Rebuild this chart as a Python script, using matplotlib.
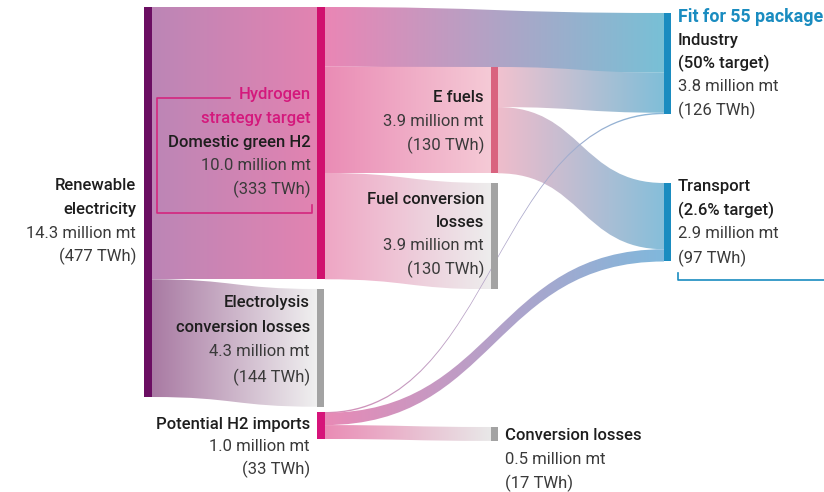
import numpy as np
import matplotlib.pyplot as plt
from matplotlib.path import Path
from matplotlib.patches import PathPatch, Rectangle
from matplotlib.colors import to_rgba

plt.rcParams['font.family'] = ['Roboto', 'DejaVu Sans']
plt.rcParams['font.size'] = 12

# flows in TWh
flow_src = ["ren", "ren", "h2", "h2", "h2", "efuel", "efuel", "imp", "imp", "imp"]
flow_dst = ["h2", "elec", "ind", "efuel", "fcl", "ind", "trans", "ind", "trans", "conv"]
flow_twh = [333, 144, 73, 130, 130, 49, 81, 1, 15, 17]
flow_c0 = ["#bc86b6", "#a97aa3", "#ea86b5", "#ea8cb5", "#efa6c4",
           "#f1c2cf", "#efbccb", "#d890b8", "#e88ab6", "#ea8cb5"]
flow_c1 = ["#e283b1", "#f0f0f0", "#78c0d6", "#f5cad6", "#ededed",
           "#80bed8", "#86bfda", "#8ab8d8", "#80b8dc", "#e8e8e8"]

# node layout: x, top, width, colour
nodes = {
    "ren":   (144, 7, 8, "#6b0e62"),
    "h2":    (317, 7, 8, "#d0106e"),
    "elec":  (317, 289, 7, "#a3a3a3"),
    "imp":   (317, 412, 8, "#d6147a"),
    "efuel": (491, 67, 7, "#d9637f"),
    "fcl":   (491, 183, 7, "#a3a3a3"),
    "conv":  (491, 427, 7, "#a3a3a3"),
    "ind":   (664, 13, 7, "#1a8cc0"),
    "trans": (664, 183, 7, "#1a8cc0"),
}

k = 390 / 477  # pixels per TWh

fig = plt.figure(figsize=(8.24, 4.92), dpi=100)
ax = fig.add_axes([0, 0, 1, 1])

size_in = {n: 0 for n in nodes}
size_out = {n: 0 for n in nodes}
for s, d, v in zip(flow_src, flow_dst, flow_twh):
    size_out[s] += v
    size_in[d] += v

off_out = {n: nodes[n][1] for n in nodes}
off_in = {n: nodes[n][1] for n in nodes}


def band(x0, y0, x1, y1, h, c0, c1):
    xm = (x0 + x1) / 2
    verts = [(x0, y0), (xm, y0), (xm, y1), (x1, y1), (x1, y1 + h),
             (xm, y1 + h), (xm, y0 + h), (x0, y0 + h), (x0, y0)]
    codes = [Path.MOVETO, Path.CURVE4, Path.CURVE4, Path.CURVE4, Path.LINETO,
             Path.CURVE4, Path.CURVE4, Path.CURVE4, Path.CLOSEPOLY]
    patch = PathPatch(Path(verts, codes), facecolor="none", edgecolor="none")
    ax.add_patch(patch)
    t = np.linspace(0, 1, 256)[:, None]
    rgba = (1 - t) * np.array(to_rgba(c0)) + t * np.array(to_rgba(c1))
    im = ax.imshow(rgba[None, :, :], extent=(x0, x1, max(y0, y1) + h, min(y0, y1)),
                   aspect="auto", interpolation="bilinear", zorder=1)
    im.set_clip_path(patch)


for s, d, v, c0, c1 in zip(flow_src, flow_dst, flow_twh, flow_c0, flow_c1):
    h = v * k
    x0 = nodes[s][0] + nodes[s][2]
    x1 = nodes[d][0]
    band(x0, off_out[s], x1, off_in[d], max(h, 1.4), c0, c1)
    off_out[s] += h
    off_in[d] += h

for n, (x, top, w, col) in nodes.items():
    h = max(size_in[n], size_out[n]) * k
    ax.add_patch(Rectangle((x, top), w, h, color=col, zorder=3, lw=0))

styles = {
    "t": dict(fontweight="medium", color="#1e1e1e"),
    "v": dict(color="#3a3a3a"),
    "p": dict(fontweight="medium", color="#d4187c"),
    "b": dict(fontweight="bold", color="#1a8cc0", fontsize=12.8),
}


def label(x, y, lines, ha="right", step=23.5):
    for i, (s, st) in enumerate(lines):
        ax.text(x, y + i * step, s, ha=ha, va="center", zorder=5, **styles[st])


label(136, 186, [("Renewable", "t"), ("electricity", "t"),
                 ("14.3 million mt", "v"), ("(477 TWh)", "v")])
label(311, 95, [("Hydrogen", "p"), ("strategy target", "p"), ("Domestic green H2", "t"),
                ("10.0 million mt", "v"), ("(333 TWh)", "v")])
label(310, 302, [("Electrolysis", "t"), ("conversion losses", "t"),
                 ("4.3 million mt", "v"), ("(144 TWh)", "v")], step=25)
label(310, 424, [("Potential H2 imports", "t"), ("1.0 million mt", "v"), ("(33 TWh)", "v")], step=22.5)
label(484, 98, [("E fuels", "t"), ("3.9 million mt", "v"), ("(130 TWh)", "v")])
label(484, 199, [("Fuel conversion", "t"), ("losses", "t"),
                 ("3.9 million mt", "v"), ("(130 TWh)", "v")])
label(505, 435, [("Conversion losses", "t"), ("0.5 million mt", "v"), ("(17 TWh)", "v")], ha="left", step=24)
label(678, 17, [("Fit for 55 package", "b")], ha="left")
label(678, 40, [("Industry", "t"), ("(50% target)", "t"),
                ("3.8 million mt", "v"), ("(126 TWh)", "v")], ha="left", step=23.3)
label(678, 186, [("Transport", "t"), ("(2.6% target)", "t"),
                 ("2.9 million mt", "v"), ("(97 TWh)", "v")], ha="left", step=24)

# brackets
ax.plot([230, 157, 157, 312, 312], [98, 98, 213, 213, 205], color="#d4267e", lw=1.2, zorder=4)
ax.plot([678, 678, 824], [273, 280, 280], color="#1a8cc0", lw=1.2, zorder=4)

ax.set_xlim(0, 824)
ax.set_ylim(492, 0)
ax.axis("off")
fig.savefig("out.png", dpi=100)
